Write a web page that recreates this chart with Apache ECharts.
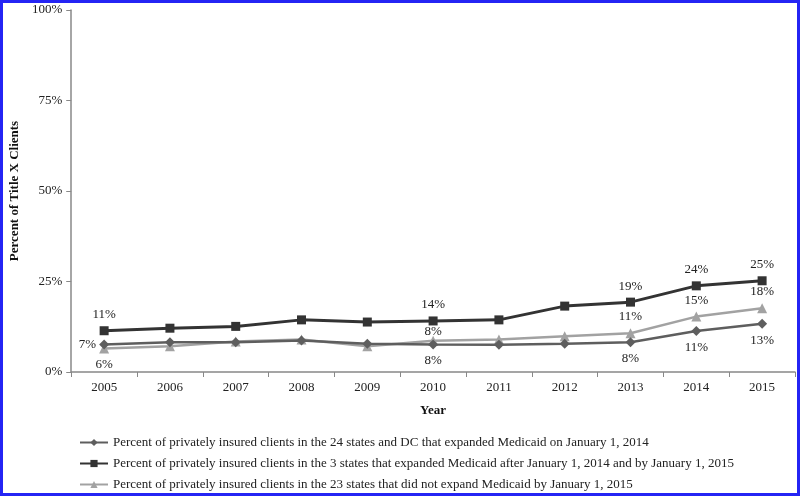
<!DOCTYPE html>
<html><head><meta charset="utf-8">
<script src="https://cdn.jsdelivr.net/npm/echarts@6/dist/echarts.min.js"></script>
<style>
html,body{margin:0;padding:0;background:#fff;}
#wrap{position:relative;width:800px;height:496px;}
#chart{position:absolute;left:0;top:0;width:800px;height:496px;}
#frame{position:absolute;left:0;top:0;width:800px;height:496px;box-sizing:border-box;border:3px solid #2424f4;pointer-events:none;}
</style></head>
<body>
<div id="wrap"><div id="chart"></div><div id="frame"></div></div>
<script>
const years = ['2005','2006','2007','2008','2009','2010','2011','2012','2013','2014','2015'];
const yTicks = [0, 25, 50, 75, 100];
const nameExpanded2014 = 'Percent of privately insured clients in the 24 states and DC that expanded Medicaid on January 1, 2014';
const nameExpandedLater = 'Percent of privately insured clients in the 3 states that expanded Medicaid after January 1, 2014 and by January 1, 2015';
const nameNotExpanded = 'Percent of privately insured clients in the 23 states that did not expand Medicaid by January 1, 2015';
const expanded2014 = [7.6, 8.2, 8.2, 8.7, 7.8, 7.6, 7.5, 7.8, 8.2, 11.3, 13.3];
const expandedLater = [11.4, 12.1, 12.6, 14.4, 13.8, 14.1, 14.4, 18.2, 19.3, 23.8, 25.2];
const notExpanded = [6.5, 7.1, 8.4, 9.0, 7.1, 8.6, 9.0, 9.9, 10.7, 15.3, 17.6];
const expanded2014Labels = ['7%','','','','','8%','','','8%','11%','13%'];
const expandedLaterLabels = ['11%','','','','','14%','','','19%','24%','25%'];
const notExpandedLabels = ['6%','','','','','8%','','','11%','15%','18%'];

const FONT = '"Liberation Serif", "Times New Roman", serif';

function build(values, labels, defPos, overrides, distances) {
  return values.map((v, i) => {
    const txt = labels[i];
    const item = { value: v };
    if (txt) {
      item.label = { show: true, formatter: txt, position: (overrides && overrides[i]) || defPos };
      if (distances && distances[i] !== undefined) item.label.distance = distances[i];
    }
    return item;
  });
}

const chart = echarts.init(document.getElementById('chart'), null, {renderer: 'canvas'});
const labelBase = { show: false, color: '#222', fontFamily: FONT, fontSize: 13, distance: 5 };
chart.setOption({
  animation: false,
  backgroundColor: '#fff',
  textStyle: { fontFamily: FONT },
  grid: { left: 69, right: 5, top: 10, bottom: 124, containLabel: false },
  legend: {
    orient: 'vertical', left: 74, top: 431, height: 120,
    itemWidth: 28, itemHeight: 9, itemGap: 8,
    textStyle: { fontFamily: FONT, fontSize: 13, color: '#222' },
    data: [nameExpanded2014, nameExpandedLater, nameNotExpanded]
  },
  xAxis: {
    type: 'category', data: years, boundaryGap: true,
    name: 'Year', nameLocation: 'middle', nameGap: 32,
    nameTextStyle: { fontFamily: FONT, fontSize: 13, fontWeight: 'bold', color: '#111' },
    axisLine: { lineStyle: { color: '#888', width: 1.5 } },
    axisTick: { show: true, alignWithLabel: false, length: 5, lineStyle: { color: '#888' } },
    axisLabel: { fontFamily: FONT, fontSize: 13, color: '#222', margin: 9 },
    splitLine: { show: false }
  },
  yAxis: {
    type: 'value', min: yTicks[0], max: yTicks[yTicks.length-1], interval: 25,
    name: 'Percent of Title X Clients', nameLocation: 'middle', nameGap: 47, nameRotate: 90,
    nameTextStyle: { fontFamily: FONT, fontSize: 13, fontWeight: 'bold', color: '#111' },
    axisLine: { show: true, lineStyle: { color: '#888', width: 1.5 } },
    axisTick: { show: true, length: 5, lineStyle: { color: '#888' } },
    axisLabel: { fontFamily: FONT, fontSize: 13, color: '#222', margin: 9, formatter: v => v + '%' },
    splitLine: { show: false }
  },
  series: [
    {
      name: nameExpanded2014, type: 'line', symbol: 'diamond', symbolSize: 10,
      data: build(expanded2014, expanded2014Labels, 'bottom', {0: 'left'}, {0: 3}),
      lineStyle: { color: '#5e5e5e', width: 2.5 }, itemStyle: { color: '#5e5e5e' },
      label: labelBase, z: 3
    },
    {
      name: nameExpandedLater, type: 'line', symbol: 'rect', symbolSize: 9,
      data: build(expandedLater, expandedLaterLabels, 'top'),
      lineStyle: { color: '#333', width: 3 }, itemStyle: { color: '#333' },
      label: labelBase, z: 4
    },
    {
      name: nameNotExpanded, type: 'line', symbol: 'triangle', symbolSize: 10,
      data: build(notExpanded, notExpandedLabels, 'top', {0: 'bottom'}, {5: -2}),
      lineStyle: { color: '#a2a2a2', width: 2.5 }, itemStyle: { color: '#a2a2a2' },
      label: labelBase, z: 2
    }
  ]
});
</script>
</body></html>
